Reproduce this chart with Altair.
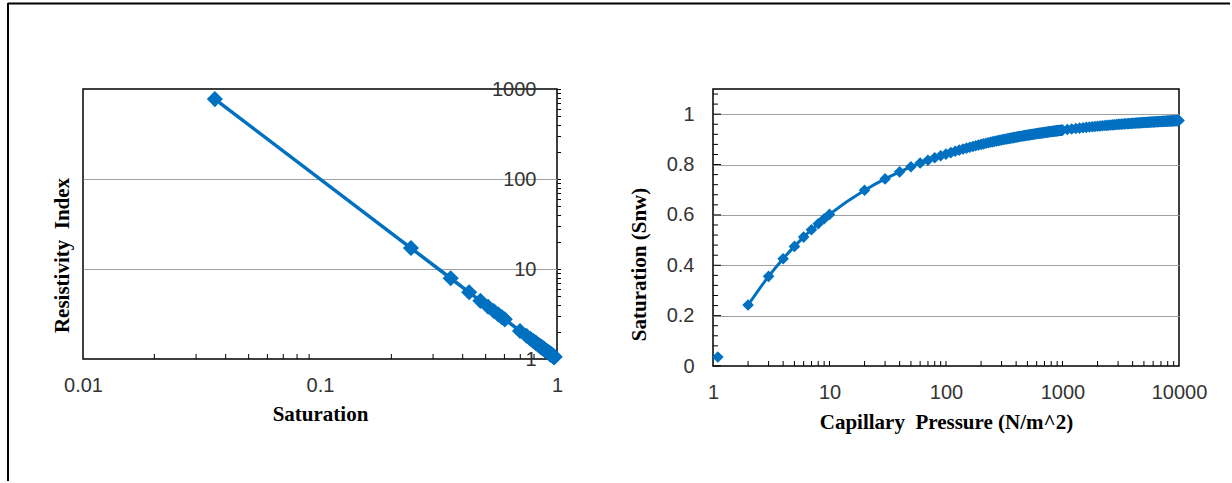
import altair as alt
import pandas as pd

# ---------------- data ----------------
# Left panel: resistivity index vs saturation
sat = [0.036, 0.242, 0.356, 0.426, 0.475, 0.512, 0.541, 0.565, 0.585, 0.602,
       0.698, 0.743, 0.771, 0.791, 0.806, 0.817, 0.827, 0.835,
       0.842, 0.847, 0.853, 0.857, 0.861, 0.865, 0.869, 0.872, 0.875, 0.877,
       0.880, 0.885, 0.890, 0.894, 0.898, 0.904, 0.909, 0.913, 0.917, 0.920, 0.923, 0.925,
       0.927, 0.929, 0.931, 0.933, 0.934, 0.936,
       0.937, 0.939, 0.941, 0.943, 0.945, 0.946, 0.948, 0.949, 0.950, 0.951,
       0.952, 0.954, 0.956, 0.958, 0.959, 0.962, 0.964, 0.965, 0.967, 0.968, 0.969, 0.970,
       0.971, 0.972, 0.9725, 0.973, 0.974, 0.974, 0.975]

res_index = [772, 17.1, 7.89, 5.51, 4.43, 3.81, 3.42, 3.13, 2.92, 2.76,
             2.05, 1.81, 1.68, 1.60, 1.54, 1.50, 1.46, 1.43,
             1.41, 1.394, 1.374, 1.362, 1.349, 1.336, 1.324, 1.315, 1.306, 1.300,
             1.291, 1.277, 1.262, 1.251, 1.240, 1.224, 1.210, 1.200, 1.189, 1.181, 1.174, 1.169,
             1.164, 1.159, 1.154, 1.149, 1.146, 1.141,
             1.139, 1.134, 1.129, 1.125, 1.120, 1.117, 1.113, 1.110, 1.108, 1.106,
             1.103, 1.099, 1.094, 1.090, 1.087, 1.081, 1.076, 1.074, 1.069, 1.067, 1.065, 1.063,
             1.061, 1.058, 1.057, 1.056, 1.054, 1.054, 1.052]

# Right panel: saturation vs capillary pressure (dense band from 100 upward)
pc = [1.1, 2, 3, 4, 5, 6, 7, 8, 9, 10,
      20, 30, 40, 50, 60, 70, 80, 90,
      100, 110, 120, 130, 140, 150, 160, 170, 180, 190,
      200, 210, 220, 230, 240, 250, 260, 270, 280, 290,
      300, 310, 320, 330, 340, 350, 360, 370, 380, 390,
      400, 410, 420, 430, 440, 450, 460, 470, 480, 490,
      500, 510, 520, 530, 540, 550, 560, 570, 580, 590,
      600, 610, 620, 630, 640, 650, 660, 670, 680, 690,
      700, 710, 720, 730, 740, 750, 760, 770, 780, 790,
      800, 810, 820, 830, 840, 850, 860, 870, 880, 890,
      900, 910, 920, 930, 940, 950, 960, 970, 980, 990,
      1000, 1100, 1200, 1300, 1400, 1500, 1600, 1700, 1800, 1900,
      2000, 2100, 2200, 2300, 2400, 2500, 2600, 2700, 2800, 2900,
      3000, 3100, 3200, 3300, 3400, 3500, 3600, 3700, 3800, 3900,
      4000, 4100, 4200, 4300, 4400, 4500, 4600, 4700, 4800, 4900,
      5000, 5100, 5200, 5300, 5400, 5500, 5600, 5700, 5800, 5900,
      6000, 6100, 6200, 6300, 6400, 6500, 6600, 6700, 6800, 6900,
      7000, 7100, 7200, 7300, 7400, 7500, 7600, 7700, 7800, 7900,
      8000, 8100, 8200, 8300, 8400, 8500, 8600, 8700, 8800, 8900,
      9000, 9100, 9200, 9300, 9400, 9500, 9600, 9700, 9800, 9900,
      10000]

snw = [0.036, 0.242, 0.356, 0.426, 0.475, 0.512, 0.541, 0.565, 0.585, 0.602,
       0.698, 0.743, 0.771, 0.791, 0.806, 0.817, 0.827, 0.835,
       0.8415, 0.8474, 0.8527, 0.8573, 0.8615, 0.8652, 0.8687, 0.8718, 0.8747, 0.8774,
       0.8799, 0.8822, 0.8844, 0.8864, 0.8883, 0.8901, 0.8918, 0.8935, 0.8950, 0.8965,
       0.8979, 0.8992, 0.9005, 0.9017, 0.9029, 0.9040, 0.9051, 0.9061, 0.9071, 0.9080,
       0.9090, 0.9099, 0.9107, 0.9116, 0.9124, 0.9132, 0.9139, 0.9147, 0.9154, 0.9161,
       0.9167, 0.9174, 0.9180, 0.9187, 0.9193, 0.9199, 0.9204, 0.9210, 0.9215, 0.9221,
       0.9226, 0.9231, 0.9236, 0.9241, 0.9246, 0.9250, 0.9255, 0.9260, 0.9264, 0.9268,
       0.9272, 0.9276, 0.9281, 0.9285, 0.9288, 0.9292, 0.9296, 0.9300, 0.9303, 0.9307,
       0.9310, 0.9314, 0.9317, 0.9320, 0.9324, 0.9327, 0.9330, 0.9333, 0.9336, 0.9339,
       0.9342, 0.9345, 0.9348, 0.9351, 0.9353, 0.9356, 0.9359, 0.9361, 0.9364, 0.9367,
       0.9369, 0.9393, 0.9413, 0.9432, 0.9448, 0.9463, 0.9477, 0.9490, 0.9501, 0.9512,
       0.9522, 0.9531, 0.9540, 0.9548, 0.9555, 0.9563, 0.9569, 0.9576, 0.9582, 0.9588,
       0.9593, 0.9599, 0.9604, 0.9609, 0.9613, 0.9618, 0.9622, 0.9626, 0.9630, 0.9634,
       0.9638, 0.9641, 0.9645, 0.9648, 0.9651, 0.9654, 0.9657, 0.9660, 0.9663, 0.9666,
       0.9669, 0.9671, 0.9674, 0.9676, 0.9679, 0.9681, 0.9683, 0.9686, 0.9688, 0.9690,
       0.9692, 0.9694, 0.9696, 0.9698, 0.9700, 0.9702, 0.9703, 0.9705, 0.9707, 0.9709,
       0.9710, 0.9712, 0.9714, 0.9715, 0.9717, 0.9718, 0.9720, 0.9721, 0.9723, 0.9724,
       0.9725, 0.9727, 0.9728, 0.9729, 0.9731, 0.9732, 0.9733, 0.9734, 0.9736, 0.9737,
       0.9738, 0.9739, 0.9740, 0.9741, 0.9743, 0.9744, 0.9745, 0.9746, 0.9747, 0.9748,
       0.9749]

# tick / label values
sat_labels = [0.01, 0.1, 1]
sat_minor = [0.02, 0.03, 0.04, 0.05, 0.06, 0.07, 0.08, 0.09,
             0.2, 0.3, 0.4, 0.5, 0.6, 0.7, 0.8, 0.9]
ri_labels = [1, 10, 100, 1000]
ri_grid = [10, 100]
ri_ticks = [2, 3, 4, 5, 6, 7, 8, 9, 10, 20, 30, 40, 50, 60, 70, 80, 90, 100,
            200, 300, 400, 500, 600, 700, 800, 900, 1000]

pc_labels = [1, 10, 100, 1000, 10000]
pc_ticks = [2, 3, 4, 5, 6, 7, 8, 9, 10, 20, 30, 40, 50, 60, 70, 80, 90, 100,
            200, 300, 400, 500, 600, 700, 800, 900, 1000,
            2000, 3000, 4000, 5000, 6000, 7000, 8000, 9000]
snw_labels = [0, 0.2, 0.4, 0.6, 0.8, 1]
snw_grid = [0.2, 0.4, 0.6, 0.8, 1]
snw_minor = [0.04, 0.08, 0.12, 0.16, 0.24, 0.28, 0.32, 0.36, 0.44, 0.48, 0.52, 0.56,
             0.64, 0.68, 0.72, 0.76, 0.84, 0.88, 0.92, 0.96, 1.04, 1.08]

BLUE = "#0070C0"
W1, H1 = 474, 270
W2, H2 = 466, 277

left_df = pd.DataFrame({"Saturation": sat, "RI": res_index})
right_df = pd.DataFrame({"Pc": pc, "Snw": snw})
one_row = pd.DataFrame({"k": [0]})

# ---------------- left chart ----------------
xs1 = alt.Scale(type="log", domain=[0.01, 1])
ys1 = alt.Scale(type="log", domain=[1, 1000])
bl = alt.Chart(left_df)

l_line = bl.mark_line(color=BLUE, strokeWidth=3.5).encode(
    x=alt.X("Saturation:Q", scale=xs1, axis=alt.Axis(
        orient="bottom", values=sat_labels, format="~g", ticks=False, domain=False,
        grid=False, labelFlush=False, labelOverlap=False, labelPadding=16,
        title="Saturation", titlePadding=8)),
    y=alt.Y("RI:Q", scale=ys1, axis=alt.Axis(
        orient="left", values=ri_grid, labels=False, ticks=False, domain=False,
        grid=True, title="Resistivity\u00a0 Index", titlePadding=11, titleY=166)),
)
l_pts = bl.mark_point(shape="diamond", filled=True, size=260, color=BLUE, opacity=1).encode(
    x=alt.X("Saturation:Q", scale=xs1, axis=None),
    y=alt.Y("RI:Q", scale=ys1, axis=alt.Axis(
        orient="right", values=ri_ticks, labels=False, domain=False, grid=False,
        ticks=True, tickSize=3.5, title=None)),
)
l_lab = bl.mark_point(opacity=0).encode(
    x=alt.X("Saturation:Q", scale=xs1, axis=None),
    y=alt.Y("RI:Q", scale=ys1, axis=alt.Axis(
        orient="left", offset=-W1, values=ri_labels, format="~g", ticks=False,
        domain=False, grid=False, labelPadding=21, labelOverlap=False, title=None)),
)
l_xticks = alt.Chart(pd.DataFrame({"t": sat_minor})).mark_rule(
    color="black", strokeWidth=1).encode(
    x=alt.X("t:Q", scale=xs1, axis=None),
    y=alt.value(H1 - 5), y2=alt.value(H1))

frame = alt.Chart(one_row)
top_rule = frame.mark_rule(color="black", strokeWidth=2).encode(
    x=alt.value(-75), x2=alt.value(1147), y=alt.value(-85.5))
left_rule = frame.mark_rule(color="black", strokeWidth=2).encode(
    x=alt.value(-75), y=alt.value(-86), y2=alt.value(392))

left = alt.layer(l_xticks, l_line, l_pts, l_lab, top_rule, left_rule).resolve_axis(
    x="independent", y="independent").properties(width=W1, height=H1)

# ---------------- right chart ----------------
xs2 = alt.Scale(type="log", domain=[1, 10000])
ys2 = alt.Scale(type="linear", domain=[0, 1.1], nice=False, zero=False)
br = alt.Chart(right_df)

r_grid = br.mark_point(opacity=0).encode(
    x=alt.X("Pc:Q", scale=xs2, axis=None),
    y=alt.Y("Snw:Q", scale=ys2, axis=alt.Axis(
        orient="left", values=snw_grid, labels=False, ticks=False, domain=False,
        grid=True, title=None)),
)
r_line = br.transform_filter("datum.Pc >= 2").mark_line(
    color=BLUE, strokeWidth=3, interpolate="monotone").encode(
    x=alt.X("Pc:Q", scale=xs2, axis=alt.Axis(
        orient="bottom", values=pc_labels, format="~g", ticks=False, domain=False,
        grid=False, labelFlush=False, labelOverlap=False, labelPadding=16,
        title="Capillary\u00a0 Pressure (N/m^2)", titlePadding=9)),
    y=alt.Y("Snw:Q", scale=ys2, axis=alt.Axis(
        orient="left", values=snw_labels, format="~g", ticks=False, domain=False,
        grid=False, labelPadding=19, labelOverlap=False,
        title="Saturation (Snw)", titlePadding=17, titleY=175)),
)
r_pts = br.mark_point(shape="diamond", filled=True, size=135, color=BLUE, opacity=1).encode(
    x=alt.X("Pc:Q", scale=xs2, axis=None),
    y=alt.Y("Snw:Q", scale=ys2, axis=None),
)
r_xticks = alt.Chart(pd.DataFrame({"t": pc_ticks})).mark_rule(
    color="black", strokeWidth=1).encode(
    x=alt.X("t:Q", scale=xs2, axis=None),
    y=alt.value(H2 - 5), y2=alt.value(H2))
r_yminor = alt.Chart(pd.DataFrame({"t": snw_minor})).mark_rule(
    color="black", strokeWidth=1).encode(
    y=alt.Y("t:Q", scale=ys2, axis=None),
    x=alt.value(0), x2=alt.value(5))
r_ymajor = alt.Chart(pd.DataFrame({"t": snw_labels})).mark_rule(
    color="black", strokeWidth=1).encode(
    y=alt.Y("t:Q", scale=ys2, axis=None),
    x=alt.value(0), x2=alt.value(8))

right = alt.layer(r_grid, r_xticks, r_yminor, r_ymajor, r_line, r_pts).resolve_axis(
    x="independent", y="independent").properties(width=W2, height=H2)

chart = alt.hconcat(left, right, spacing=156, bounds="flush").configure(
    padding={"left": 6, "top": 1, "right": 0, "bottom": 0},
    background="white",
).configure_view(
    stroke="black", strokeWidth=1.5,
).configure_axis(
    labelFont="Liberation Sans", labelFontSize=20, labelColor="#333333",
    titleFont="Liberation Serif", titleFontSize=21, titleFontWeight="bold",
    titleColor="black", tickColor="black", tickWidth=1,
    gridColor="#A0A0A0", gridWidth=1,
)

chart.save("out.html", embed_options={"renderer": "svg", "actions": False})
